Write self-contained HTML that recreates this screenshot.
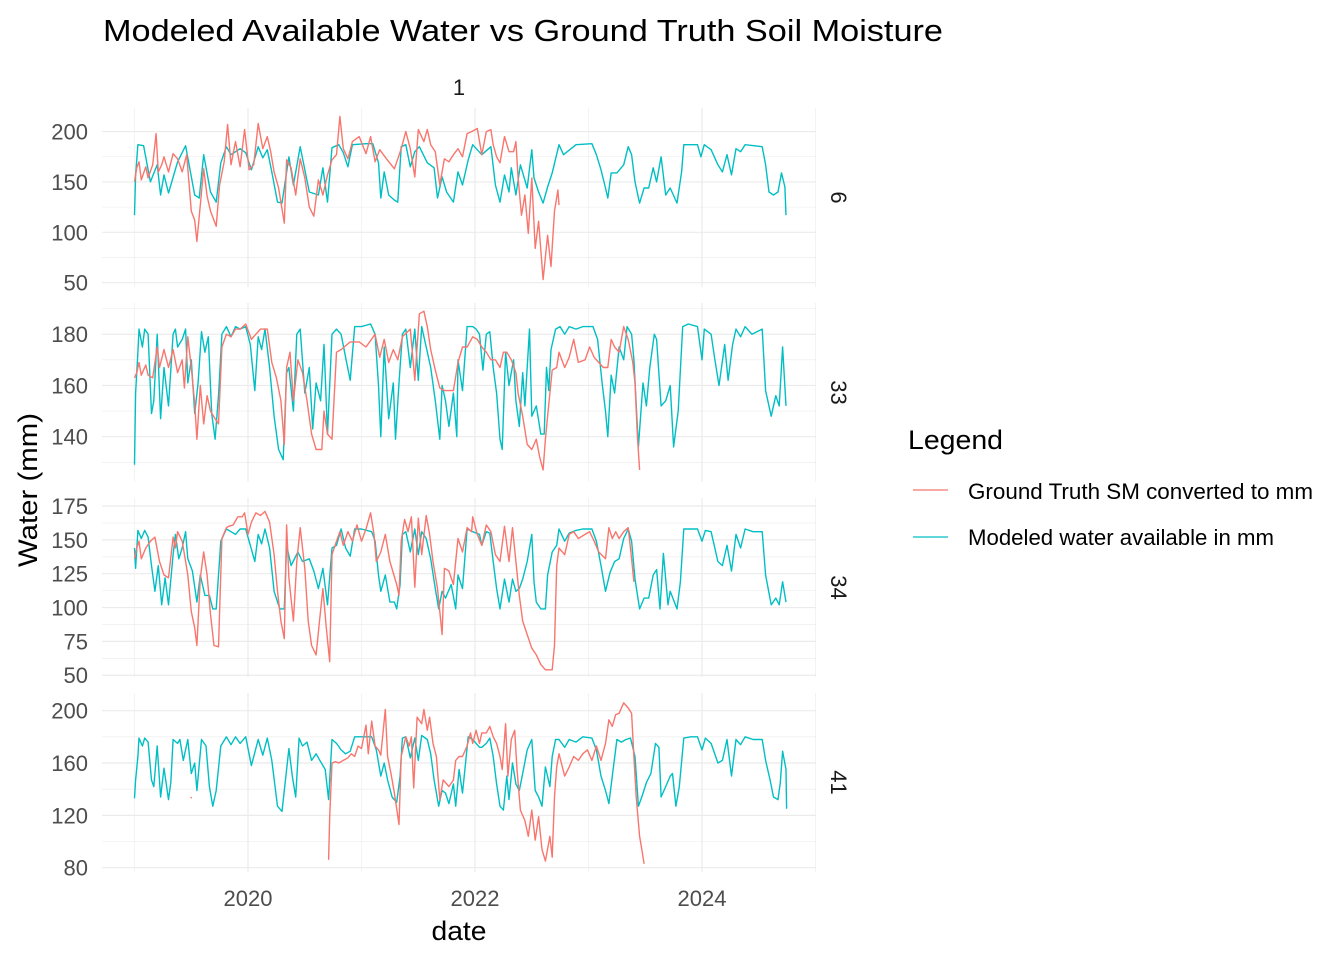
<!DOCTYPE html>
<html><head><meta charset="utf-8"><style>
body{margin:0;background:#fff;}
svg{display:block;font-family:"Liberation Sans",Arial,sans-serif;}
</style></head><body>
<svg id="chart" width="1344" height="960" viewBox="0 0 1344 960">
<rect width="1344" height="960" fill="#fff"/>
<text x="103" y="41" font-size="31" textLength="840" lengthAdjust="spacingAndGlyphs" fill="#000">Modeled Available Water vs Ground Truth Soil Moisture</text>
<text x="459" y="95" font-size="22" fill="#1a1a1a" text-anchor="middle">1</text>
<g id="panels"></g>
<text x="459" y="940" font-size="27" textLength="55" lengthAdjust="spacingAndGlyphs" fill="#000" text-anchor="middle">date</text>
<text transform="translate(37,490) rotate(-90)" font-size="27" textLength="154" lengthAdjust="spacingAndGlyphs" fill="#000" text-anchor="middle">Water (mm)</text>
<g>
<text x="908" y="449" font-size="27" textLength="95" lengthAdjust="spacingAndGlyphs" fill="#000">Legend</text>
<line x1="913" x2="948" y1="490" y2="490" stroke="#F8766D" stroke-width="1.3"/>
<text x="968" y="499" font-size="22" textLength="345" lengthAdjust="spacingAndGlyphs" fill="#000">Ground Truth SM converted to mm</text>
<line x1="913" x2="948" y1="537" y2="537" stroke="#00BFC4" stroke-width="1.3"/>
<text x="968" y="545" font-size="22" textLength="306" lengthAdjust="spacingAndGlyphs" fill="#000">Modeled water available in mm</text>
</g>
</svg>
<script>
const facetLabels = ["6","33","34","41"];
const xTickYears = [2020,2022,2024];
const xTickLabels = ["2020","2022","2024"];
const yTicks = [[50,100,150,200],[140,160,180],[50,75,100,125,150,175],[80,120,160,200]];
const yMinor = [[75,125,175],[130,150,170,190],[62.5,87.5,112.5,137.5,162.5],[100,140,180]];
const yDomains = [[45.7,223.4],[122.3,192.2],[48.7,180.9],[76.7,213.5]];

const p1Model = [[2019.00,117],[2019.01,157],[2019.03,187],[2019.08,186],[2019.14,150],[2019.20,167],[2019.23,137],[2019.26,157],[2019.30,139],[2019.38,170],[2019.45,186],[2019.53,137],[2019.57,134],[2019.61,177],[2019.67,140],[2019.72,130],[2019.76,169],[2019.81,185],[2019.85,177],[2019.93,183],[2019.98,179],[2020.03,162],[2020.09,185],[2020.13,174],[2020.17,182],[2020.21,160],[2020.26,130],[2020.30,129],[2020.36,175],[2020.40,147],[2020.46,185],[2020.50,162],[2020.54,140],[2020.62,137],[2020.66,164],[2020.70,130],[2020.74,184],[2020.80,187],[2020.84,179],[2020.88,165],[2020.92,187],[2021.04,188],[2021.10,188],[2021.15,169],[2021.17,134],[2021.20,160],[2021.24,137],[2021.29,132],[2021.32,130],[2021.35,185],[2021.39,187],[2021.43,165],[2021.47,180],[2021.51,185],[2021.58,169],[2021.64,164],[2021.67,134],[2021.71,155],[2021.75,140],[2021.81,130],[2021.85,160],[2021.89,147],[2021.94,172],[2021.98,187],[2022.06,177],[2022.14,185],[2022.18,147],[2022.22,130],[2022.26,157],[2022.30,140],[2022.32,164],[2022.36,137],[2022.40,167],[2022.46,144],[2022.50,182],[2022.52,154],[2022.56,140],[2022.60,129],[2022.64,145],[2022.68,159],[2022.74,187],[2022.78,177],[2022.89,187],[2023.03,188],[2023.07,177],[2023.11,162],[2023.15,144],[2023.17,134],[2023.20,159],[2023.25,159],[2023.31,167],[2023.35,185],[2023.38,177],[2023.41,150],[2023.45,129],[2023.49,144],[2023.53,144],[2023.57,164],[2023.60,150],[2023.64,175],[2023.68,137],[2023.72,144],[2023.78,129],[2023.82,160],[2023.84,187],[2023.96,187],[2023.99,175],[2024.02,187],[2024.08,182],[2024.14,167],[2024.18,160],[2024.22,177],[2024.26,157],[2024.30,183],[2024.34,180],[2024.38,187],[2024.53,185],[2024.56,167],[2024.59,140],[2024.63,137],[2024.67,140],[2024.70,159],[2024.73,145],[2024.74,117]];
const p1Truth = [[2019.00,150],[2019.02,164],[2019.04,170],[2019.06,152],[2019.10,165],[2019.12,154],[2019.16,167],[2019.19,198],[2019.21,160],[2019.24,167],[2019.26,175],[2019.30,160],[2019.34,178],[2019.38,173],[2019.42,160],[2019.46,177],[2019.50,121],[2019.53,112],[2019.55,91],[2019.58,127],[2019.61,163],[2019.64,136],[2019.67,121],[2019.72,106],[2019.75,147],[2019.79,170],[2019.82,207],[2019.85,167],[2019.89,190],[2019.93,165],[2019.97,202],[2020.01,162],[2020.05,167],[2020.09,208],[2020.13,183],[2020.17,195],[2020.20,180],[2020.23,160],[2020.27,144],[2020.32,109],[2020.34,172],[2020.38,164],[2020.42,137],[2020.46,173],[2020.50,154],[2020.54,125],[2020.58,116],[2020.62,152],[2020.66,137],[2020.70,157],[2020.74,172],[2020.78,177],[2020.81,215],[2020.84,183],[2020.88,173],[2020.92,190],[2020.98,195],[2021.04,178],[2021.08,195],[2021.12,170],[2021.16,182],[2021.22,173],[2021.29,163],[2021.35,183],[2021.39,200],[2021.43,183],[2021.47,155],[2021.50,202],[2021.55,190],[2021.58,202],[2021.61,187],[2021.65,180],[2021.69,147],[2021.73,173],[2021.77,170],[2021.81,177],[2021.85,183],[2021.89,175],[2021.93,198],[2021.97,200],[2022.02,203],[2022.06,177],[2022.10,200],[2022.14,202],[2022.16,187],[2022.19,175],[2022.22,169],[2022.26,195],[2022.30,180],[2022.34,180],[2022.36,190],[2022.38,154],[2022.41,117],[2022.44,137],[2022.47,99],[2022.50,154],[2022.53,84],[2022.56,111],[2022.60,53],[2022.64,97],[2022.67,66],[2022.70,121],[2022.73,142],[2022.74,127]];

const p2Model = [[2019.00,129],[2019.01,157],[2019.03,173],[2019.04,182],[2019.07,175],[2019.09,182],[2019.12,180],[2019.15,149],[2019.17,154],[2019.20,180],[2019.23,147],[2019.26,167],[2019.30,152],[2019.34,180],[2019.36,182],[2019.38,175],[2019.42,178],[2019.45,182],[2019.47,161],[2019.50,170],[2019.53,149],[2019.56,161],[2019.59,181],[2019.62,173],[2019.65,179],[2019.68,149],[2019.71,139],[2019.74,156],[2019.77,180],[2019.81,183],[2019.85,179],[2019.89,183],[2019.93,182],[2019.98,183],[2020.02,176],[2020.06,158],[2020.09,179],[2020.12,174],[2020.15,182],[2020.19,167],[2020.23,148],[2020.27,135],[2020.31,131],[2020.34,165],[2020.36,167],[2020.40,150],[2020.43,180],[2020.46,182],[2020.50,157],[2020.54,167],[2020.57,143],[2020.60,161],[2020.64,154],[2020.67,176],[2020.70,141],[2020.74,180],[2020.78,182],[2020.82,180],[2020.86,171],[2020.90,162],[2020.94,183],[2021.00,183],[2021.08,184],[2021.12,180],[2021.15,160],[2021.17,140],[2021.20,175],[2021.24,147],[2021.28,161],[2021.30,139],[2021.33,161],[2021.36,180],[2021.39,182],[2021.43,167],[2021.47,182],[2021.50,162],[2021.53,183],[2021.57,175],[2021.61,167],[2021.65,154],[2021.69,139],[2021.71,160],[2021.74,154],[2021.77,144],[2021.81,157],[2021.84,140],[2021.85,170],[2021.89,158],[2021.93,183],[2021.98,183],[2022.01,182],[2022.04,180],[2022.07,166],[2022.10,180],[2022.13,181],[2022.16,167],[2022.19,157],[2022.22,139],[2022.24,135],[2022.27,173],[2022.30,160],[2022.34,170],[2022.36,154],[2022.39,144],[2022.42,165],[2022.44,152],[2022.48,182],[2022.50,148],[2022.54,152],[2022.58,141],[2022.61,141],[2022.63,167],[2022.65,158],[2022.67,174],[2022.71,182],[2022.75,183],[2022.79,180],[2022.83,183],[2022.89,182],[2022.95,183],[2023.04,183],[2023.08,178],[2023.12,161],[2023.15,150],[2023.17,140],[2023.20,164],[2023.23,157],[2023.27,175],[2023.31,170],[2023.34,183],[2023.38,180],[2023.40,170],[2023.44,136],[2023.48,161],[2023.51,152],[2023.54,167],[2023.58,180],[2023.60,178],[2023.64,152],[2023.68,154],[2023.72,160],[2023.75,136],[2023.79,150],[2023.83,183],[2023.88,184],[2023.96,183],[2024.00,170],[2024.02,182],[2024.08,180],[2024.11,171],[2024.15,160],[2024.20,176],[2024.23,162],[2024.27,176],[2024.30,182],[2024.34,179],[2024.38,183],[2024.44,180],[2024.53,182],[2024.56,158],[2024.61,148],[2024.65,156],[2024.68,152],[2024.71,175],[2024.74,152]];
const p2Truth = [[2019.00,163],[2019.02,165],[2019.04,169],[2019.06,164],[2019.10,168],[2019.12,164],[2019.16,163],[2019.20,175],[2019.22,167],[2019.26,174],[2019.30,167],[2019.34,174],[2019.38,165],[2019.42,170],[2019.44,159],[2019.47,179],[2019.50,167],[2019.53,153],[2019.55,139],[2019.58,160],[2019.61,145],[2019.64,156],[2019.67,150],[2019.71,147],[2019.74,145],[2019.77,175],[2019.81,180],[2019.85,179],[2019.89,182],[2019.93,182],[2019.98,184],[2020.03,178],[2020.07,180],[2020.11,182],[2020.17,182],[2020.21,169],[2020.25,163],[2020.29,154],[2020.32,137],[2020.34,167],[2020.37,173],[2020.40,154],[2020.44,170],[2020.48,165],[2020.52,154],[2020.56,141],[2020.60,135],[2020.65,135],[2020.67,150],[2020.70,141],[2020.74,139],[2020.78,173],[2020.82,174],[2020.90,177],[2020.98,177],[2021.04,175],[2021.12,180],[2021.16,171],[2021.20,178],[2021.24,169],[2021.28,174],[2021.32,170],[2021.36,179],[2021.43,182],[2021.47,162],[2021.51,188],[2021.55,189],[2021.58,183],[2021.61,174],[2021.65,166],[2021.69,159],[2021.73,158],[2021.81,158],[2021.85,169],[2021.89,175],[2021.93,175],[2021.98,179],[2022.02,178],[2022.06,175],[2022.10,173],[2022.14,170],[2022.18,170],[2022.22,167],[2022.25,173],[2022.28,173],[2022.32,170],[2022.36,165],[2022.38,157],[2022.42,148],[2022.46,137],[2022.50,135],[2022.54,139],[2022.57,132],[2022.60,127],[2022.62,139],[2022.64,148],[2022.68,166],[2022.72,167],[2022.74,173],[2022.79,167],[2022.83,171],[2022.87,178],[2022.91,169],[2022.97,170],[2023.01,175],[2023.05,171],[2023.09,169],[2023.13,167],[2023.17,167],[2023.20,178],[2023.23,175],[2023.27,173],[2023.31,183],[2023.35,178],[2023.39,169],[2023.41,161],[2023.43,141],[2023.45,127]];

const p3Model = [[2019.00,144],[2019.01,129],[2019.03,157],[2019.06,151],[2019.09,157],[2019.12,152],[2019.15,131],[2019.18,112],[2019.21,131],[2019.24,102],[2019.27,122],[2019.30,102],[2019.34,139],[2019.36,154],[2019.39,136],[2019.42,144],[2019.45,156],[2019.47,136],[2019.51,127],[2019.55,104],[2019.58,124],[2019.62,109],[2019.66,109],[2019.69,99],[2019.72,99],[2019.76,149],[2019.81,158],[2019.85,156],[2019.89,154],[2019.93,158],[2019.98,158],[2020.02,146],[2020.06,134],[2020.09,154],[2020.12,147],[2020.15,158],[2020.19,144],[2020.23,112],[2020.28,99],[2020.32,99],[2020.34,146],[2020.38,131],[2020.44,141],[2020.48,134],[2020.54,136],[2020.58,127],[2020.62,114],[2020.66,129],[2020.70,102],[2020.74,144],[2020.78,146],[2020.82,158],[2020.86,144],[2020.90,138],[2020.94,158],[2021.00,158],[2021.09,156],[2021.12,149],[2021.15,124],[2021.17,112],[2021.21,124],[2021.25,104],[2021.29,104],[2021.31,99],[2021.34,117],[2021.36,154],[2021.39,156],[2021.43,141],[2021.47,158],[2021.50,139],[2021.53,156],[2021.57,151],[2021.61,136],[2021.65,114],[2021.68,99],[2021.71,112],[2021.74,107],[2021.79,117],[2021.83,99],[2021.85,124],[2021.89,114],[2021.93,158],[2021.98,156],[2022.04,154],[2022.06,146],[2022.10,156],[2022.13,155],[2022.16,134],[2022.19,114],[2022.22,99],[2022.26,121],[2022.30,104],[2022.33,121],[2022.36,112],[2022.39,114],[2022.42,121],[2022.46,134],[2022.50,154],[2022.52,119],[2022.54,104],[2022.58,99],[2022.62,99],[2022.64,124],[2022.68,141],[2022.72,146],[2022.74,158],[2022.79,149],[2022.83,155],[2022.89,157],[2022.95,158],[2023.03,158],[2023.07,149],[2023.11,131],[2023.15,112],[2023.19,126],[2023.23,134],[2023.27,136],[2023.31,151],[2023.35,158],[2023.38,149],[2023.41,121],[2023.45,99],[2023.49,107],[2023.53,107],[2023.57,124],[2023.60,128],[2023.63,99],[2023.66,140],[2023.70,102],[2023.72,112],[2023.78,99],[2023.81,119],[2023.84,158],[2023.90,158],[2023.96,158],[2024.00,149],[2024.03,157],[2024.08,156],[2024.14,134],[2024.18,131],[2024.22,146],[2024.26,127],[2024.30,154],[2024.34,144],[2024.38,158],[2024.45,156],[2024.53,156],[2024.56,124],[2024.61,102],[2024.65,107],[2024.68,102],[2024.71,119],[2024.74,104]];
const p3Truth = [[2019.00,136],[2019.02,144],[2019.04,149],[2019.06,136],[2019.10,144],[2019.14,149],[2019.18,152],[2019.22,134],[2019.26,124],[2019.30,122],[2019.34,152],[2019.36,144],[2019.38,156],[2019.42,149],[2019.45,134],[2019.47,124],[2019.50,97],[2019.53,85],[2019.55,72],[2019.58,122],[2019.61,141],[2019.64,124],[2019.67,95],[2019.70,72],[2019.74,71],[2019.77,151],[2019.81,159],[2019.83,160],[2019.87,161],[2019.91,167],[2019.95,167],[2019.97,170],[2020.00,154],[2020.03,163],[2020.07,170],[2020.11,168],[2020.15,171],[2020.19,163],[2020.23,139],[2020.26,112],[2020.29,90],[2020.32,77],[2020.34,161],[2020.36,122],[2020.40,90],[2020.43,134],[2020.46,159],[2020.50,129],[2020.53,90],[2020.56,72],[2020.60,65],[2020.63,90],[2020.66,114],[2020.69,85],[2020.72,60],[2020.74,139],[2020.78,149],[2020.81,156],[2020.84,146],[2020.88,156],[2020.92,149],[2020.96,161],[2021.00,149],[2021.04,158],[2021.08,170],[2021.11,154],[2021.13,134],[2021.17,141],[2021.21,154],[2021.25,134],[2021.31,117],[2021.33,109],[2021.35,149],[2021.38,165],[2021.41,156],[2021.44,167],[2021.47,115],[2021.50,166],[2021.53,139],[2021.57,168],[2021.60,154],[2021.63,134],[2021.67,114],[2021.71,80],[2021.73,129],[2021.77,127],[2021.81,117],[2021.85,151],[2021.89,141],[2021.93,159],[2021.97,156],[2021.98,167],[2022.02,154],[2022.06,146],[2022.10,161],[2022.14,156],[2022.18,139],[2022.22,134],[2022.26,160],[2022.30,134],[2022.33,159],[2022.36,134],[2022.39,109],[2022.42,90],[2022.46,80],[2022.50,70],[2022.54,65],[2022.58,58],[2022.62,54],[2022.68,54],[2022.70,72],[2022.72,131],[2022.74,144],[2022.79,139],[2022.83,154],[2022.87,156],[2022.91,151],[2022.97,154],[2023.01,156],[2023.05,149],[2023.09,141],[2023.15,136],[2023.18,159],[2023.21,151],[2023.24,156],[2023.27,151],[2023.31,156],[2023.35,159],[2023.38,136],[2023.40,119]];

const p4Model = [[2019.00,133],[2019.01,147],[2019.03,165],[2019.04,179],[2019.07,173],[2019.09,179],[2019.12,176],[2019.15,147],[2019.17,142],[2019.20,173],[2019.23,134],[2019.26,156],[2019.30,132],[2019.32,145],[2019.34,178],[2019.38,175],[2019.40,178],[2019.43,162],[2019.47,178],[2019.50,152],[2019.53,160],[2019.55,139],[2019.59,178],[2019.63,173],[2019.66,142],[2019.69,127],[2019.72,139],[2019.76,173],[2019.81,180],[2019.85,174],[2019.89,180],[2019.93,175],[2019.98,180],[2020.03,158],[2020.09,178],[2020.13,166],[2020.17,179],[2020.21,162],[2020.26,127],[2020.30,123],[2020.36,171],[2020.39,150],[2020.42,134],[2020.45,179],[2020.48,173],[2020.52,176],[2020.56,162],[2020.60,167],[2020.64,161],[2020.68,155],[2020.71,132],[2020.74,178],[2020.78,175],[2020.82,170],[2020.86,167],[2020.90,169],[2020.94,180],[2021.00,180],[2021.09,180],[2021.13,170],[2021.17,150],[2021.20,160],[2021.23,147],[2021.27,134],[2021.31,130],[2021.34,150],[2021.36,179],[2021.39,180],[2021.43,164],[2021.47,179],[2021.50,162],[2021.53,181],[2021.58,178],[2021.61,167],[2021.64,147],[2021.68,127],[2021.71,139],[2021.74,137],[2021.77,129],[2021.81,144],[2021.83,127],[2021.86,155],[2021.89,137],[2021.94,180],[2021.98,178],[2022.01,175],[2022.04,172],[2022.06,172],[2022.10,175],[2022.13,179],[2022.16,165],[2022.19,144],[2022.22,127],[2022.25,124],[2022.28,150],[2022.30,132],[2022.33,160],[2022.36,144],[2022.39,139],[2022.42,152],[2022.46,170],[2022.50,178],[2022.53,139],[2022.56,134],[2022.59,127],[2022.62,157],[2022.66,142],[2022.68,165],[2022.71,178],[2022.74,178],[2022.79,172],[2022.83,178],[2022.89,176],[2022.95,180],[2023.03,179],[2023.07,170],[2023.11,150],[2023.15,139],[2023.18,129],[2023.21,150],[2023.25,178],[2023.29,176],[2023.33,178],[2023.37,179],[2023.41,165],[2023.44,127],[2023.47,134],[2023.51,145],[2023.55,152],[2023.59,175],[2023.62,172],[2023.64,134],[2023.68,142],[2023.72,150],[2023.74,152],[2023.77,127],[2023.80,142],[2023.84,179],[2023.90,180],[2023.96,180],[2024.00,170],[2024.03,179],[2024.08,175],[2024.14,160],[2024.18,162],[2024.22,178],[2024.26,150],[2024.30,178],[2024.34,174],[2024.38,180],[2024.45,178],[2024.53,178],[2024.56,162],[2024.60,147],[2024.63,134],[2024.67,132],[2024.69,145],[2024.71,169],[2024.74,155],[2024.745,125]];
const p4TruthEarly = [[2019.495,134],[2019.505,133]];
const p4Truth = [[2020.71,86],[2020.72,119],[2020.74,160],[2020.77,161],[2020.80,160],[2020.84,162],[2020.88,164],[2020.91,167],[2020.94,165],[2020.97,173],[2021.00,171],[2021.04,189],[2021.06,167],[2021.09,192],[2021.12,173],[2021.15,170],[2021.17,166],[2021.21,201],[2021.23,165],[2021.26,152],[2021.29,137],[2021.33,113],[2021.35,165],[2021.39,180],[2021.42,173],[2021.44,180],[2021.46,141],[2021.49,195],[2021.53,190],[2021.55,201],[2021.58,185],[2021.60,195],[2021.63,175],[2021.66,165],[2021.69,132],[2021.72,147],[2021.77,142],[2021.81,147],[2021.83,162],[2021.86,165],[2021.89,165],[2021.93,173],[2021.96,183],[2021.98,175],[2022.01,185],[2022.04,175],[2022.06,183],[2022.10,183],[2022.13,188],[2022.16,180],[2022.19,175],[2022.22,165],[2022.24,155],[2022.27,190],[2022.29,150],[2022.32,178],[2022.35,185],[2022.37,155],[2022.40,124],[2022.44,116],[2022.47,104],[2022.50,124],[2022.53,101],[2022.56,119],[2022.59,94],[2022.62,85],[2022.66,104],[2022.68,88],[2022.70,134],[2022.72,157],[2022.74,167],[2022.79,150],[2022.83,157],[2022.87,165],[2022.91,162],[2022.95,167],[2022.99,170],[2023.03,162],[2023.07,173],[2023.11,162],[2023.15,175],[2023.18,193],[2023.21,188],[2023.24,197],[2023.27,198],[2023.31,206],[2023.35,202],[2023.38,198],[2023.40,165],[2023.42,134],[2023.45,104],[2023.47,94],[2023.49,83]];

const NS = "http://www.w3.org/2000/svg";
const PX0 = 102, PX1 = 816;
const panelTops = [108,303,498,693];
const PH = 179;
function xScale(yr){ return 248 + (yr - 2020) * 113.5; }
function makeY(i){ const d = yDomains[i], top = panelTops[i]; return v => top + PH - (v - d[0]) / (d[1] - d[0]) * PH; }
function el(tag, attrs, parent){ const e = document.createElementNS(NS, tag); for (const k in attrs) e.setAttribute(k, attrs[k]); parent.appendChild(e); return e; }

const panelsG = document.getElementById('panels');
const series = [[p1Truth,p1Model],[p2Truth,p2Model],[p3Truth,p3Model],[p4Truth,p4Model]];

for (let i = 0; i < 4; i++) {
  const y = makeY(i), top = panelTops[i];
  const g = el('g', {}, panelsG);
  
  
  yMinor[i].forEach(v => {
    const l = el('line', {x1:PX0, x2:PX1, y1:y(v), y2:y(v), stroke:'#ebebeb', 'stroke-width':0.6}, g);
    
    
  });
  [2019,2021,2023,2025].forEach(yr => {
    const l = el('line', {x1:xScale(yr), x2:xScale(yr), y1:top, y2:top+PH, stroke:'#ebebeb', 'stroke-width':0.6}, g);
    
    
  });
  yTicks[i].forEach(v => {
    const l = el('line', {x1:PX0, x2:PX1, y1:y(v), y2:y(v), stroke:'#ebebeb', 'stroke-width':1.2}, g);
    
    
    const t = el('text', {x:88, y:y(v)+8, 'font-size':22, fill:'#4d4d4d', 'text-anchor':'end'}, g);
    
    
    t.textContent = String(v);
  });
  xTickYears.forEach(yr => {
    const l = el('line', {x1:xScale(yr), x2:xScale(yr), y1:top, y2:top+PH, stroke:'#ebebeb', 'stroke-width':1.2}, g);
    
    
  });
  const names = ['ground-truth-line', 'modeled-line'];
  const cols = ['#F8766D', '#00BFC4'];
  [1,0].forEach(s => {
    const pts = series[i][s].map(p => xScale(p[0]).toFixed(1) + ',' + y(p[1]).toFixed(1)).join(' ');
    const pl = el('polyline', {points:pts, fill:'none', stroke:cols[s], 'stroke-width':1.4, 'stroke-linejoin':'round'}, g);
    
    
  });
  if (i === 3) {
    const pts = p4TruthEarly.map(p => xScale(p[0]).toFixed(1) + ',' + y(p[1]).toFixed(1)).join(' ');
    const pl = el('polyline', {points:pts, fill:'none', stroke:'#F8766D', 'stroke-width':1.3}, g);
    
    
  }
  const st = el('text', {'font-size':22, fill:'#1a1a1a', 'text-anchor':'middle', transform:'translate(831,' + (top + PH/2) + ') rotate(90)'}, g);
  
  
  st.textContent = facetLabels[i];
}
xTickYears.forEach((yr, k) => {
  const t = el('text', {x:xScale(yr), y:906, 'font-size':22, fill:'#4d4d4d', 'text-anchor':'middle'}, panelsG);
  
  
  t.textContent = xTickLabels[k];
});
</script>
</body></html>
